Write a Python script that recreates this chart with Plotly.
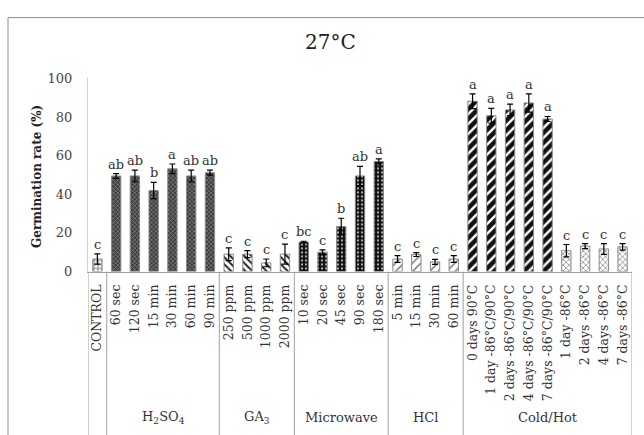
import plotly.graph_objects as go

W, H = 644, 435

categories = ["CONTROL",
              "60 sec", "120 sec", "15 min", "30 min", "60 min", "90 min",
              "250 ppm", "500 ppm", "1000 ppm", "2000 ppm",
              "10 sec", "20 sec", "45 sec", "90 sec", "180 sec",
              "5 min", "15 min", "30 min", "60 min",
              "0 days 90°C", "1 day -86°C/90°C", "2 days -86°C/90°C", "4 days -86°C/90°C", "7 days -86°C/90°C",
              "1 day -86°C", "2 days -86°C", "4 days -86°C", "7 days -86°C"]
values = [6.5,
          49.5, 49.5, 42.0, 53.2, 49.5, 51.2,
          9.0, 9.0, 4.5, 9.0,
          15.3, 10.0, 23.3, 49.5, 57.0,
          6.5, 8.8, 5.0, 6.5,
          88.2, 80.7, 83.7, 87.3, 79.0,
          10.8, 13.2, 11.7, 12.8]
errors = [2.7,
          1.2, 3.0, 4.2, 2.5, 3.0, 1.3,
          3.3, 1.8, 2.0, 5.2,
          0.4, 1.2, 4.3, 5.0, 1.3,
          1.7, 1.0, 1.3, 1.7,
          3.8, 3.8, 3.0, 4.7, 1.3,
          3.2, 1.3, 2.8, 1.7]
letters = ["c",
           "ab", "ab", "b", "a", "ab", "ab",
           "c", "c", "c", "c",
           "bc", "c", "b", "ab", "a",
           "c", "c", "c", "c",
           "a", "a", "a", "a", "a",
           "c", "c", "c", "c"]
groups = ["", "H<sub>2</sub>SO<sub>4</sub>", "GA<sub>3</sub>", "Microwave", "HCl", "Cold/Hot"]
group_sizes = [1, 6, 4, 5, 4, 9]

# visual style segments (start, end) -> pattern
styles = [
    (0, 1, dict(shape="+", bgcolor="white", fgcolor="#222", size=4, solidity=0.25)),
    (1, 7, dict(shape="x", bgcolor="#3c3c3c", fgcolor="#a8a8a8", size=3, solidity=0.3)),
    (7, 11, dict(shape="\\", bgcolor="white", fgcolor="#222", size=5, solidity=0.4)),
    (11, 16, dict(shape=".", bgcolor="#111", fgcolor="#ddd", size=4, solidity=0.2)),
    (16, 20, dict(shape="/", bgcolor="white", fgcolor="#888", size=6, solidity=0.3)),
    (20, 25, dict(shape="/", bgcolor="#111", fgcolor="white", size=7, solidity=0.35)),
    (25, 29, dict(shape="x", bgcolor="white", fgcolor="#777", size=4, solidity=0.3)),
]

serif = "DejaVu Serif"
fig = go.Figure()
for s, e, pat in styles:
    fig.add_trace(go.Bar(
        x=list(range(s, e)), y=values[s:e], width=0.5,
        marker=dict(color=pat["bgcolor"], pattern=dict(fillmode="replace", **pat),
                    line=dict(color="#8a8a8a", width=1)),
        error_y=dict(type="data", array=errors[s:e], color="black", thickness=1.2, width=3),
        showlegend=False, hoverinfo="skip"))

x0_px, x1_px = 88, 632
y0_px, y100_px = 274, 74
ydom = [1 - y0_px / H, 1 - y100_px / H]

annotations = []
for i, (v, e, l) in enumerate(zip(values, errors, letters)):
    annotations.append(dict(x=i, y=v + e, xref="x", yref="y", text=l, showarrow=False,
                            xanchor="center", yanchor="bottom", yshift=0,
                            font=dict(family=serif, size=13, color="#333")))

# group labels and separators
shapes = []
sep_bottom = -0.05
start = 0
bounds = [0]
for g, n in zip(groups, group_sizes):
    if g:
        annotations.append(dict(x=start + (n - 1) / 2, y=1 - 425 / H, xref="x", yref="paper",
                                text=g, showarrow=False, xanchor="center", yanchor="middle",
                                font=dict(family=serif, size=13, color="#333")))
    start += n
    bounds.append(start)
for b in bounds:
    shapes.append(dict(type="line", xref="x", yref="paper", x0=b - 0.5, x1=b - 0.5,
                       y0=sep_bottom, y1=ydom[0], line=dict(color="#a0a0a0", width=1)))

# chart border
shapes.append(dict(type="rect", xref="paper", yref="paper", x0=8 / W, x1=1.05,
                   y0=-0.05, y1=1 - 11 / H, line=dict(color="#8c8c8c", width=1)))

annotations.append(dict(x=330 / W, y=1 - 36 / H, xref="paper", yref="paper", text="27°C",
                        xanchor="center", yanchor="middle", showarrow=False,
                        font=dict(family=serif, size=20, color="#222")))
annotations.append(dict(x=37 / W, y=1 - 176 / H, xref="paper", yref="paper",
                        text="<b>Germination rate (%)</b>", textangle=-90, showarrow=False,
                        xanchor="center", yanchor="middle",
                        font=dict(family=serif, size=12, color="#222")))

fig.update_layout(
    width=W, height=H, margin=dict(l=0, r=0, t=0, b=0),
    paper_bgcolor="white", plot_bgcolor="white", barmode="overlay",
    xaxis=dict(domain=[x0_px / W, x1_px / W], range=[-0.5, 28.5],
               tickmode="array", tickvals=list(range(len(categories))), ticktext=categories,
               tickangle=-90, tickfont=dict(family=serif, size=12.5, color="#333"),
               showline=True, linecolor="#a0a0a0", linewidth=1, showgrid=False,
               zeroline=False, ticks="", ticklabelstandoff=7),
    yaxis=dict(domain=ydom, range=[0, 100], tickvals=[0, 20, 40, 60, 80, 100],
               tickfont=dict(family=serif, size=13, color="#444"),
               showline=True, linecolor="#d0d0d0", linewidth=1, showgrid=False,
               zeroline=False, ticks="", ticklabelstandoff=12),
    shapes=shapes, annotations=annotations,
)

fig.write_html("out.html")
